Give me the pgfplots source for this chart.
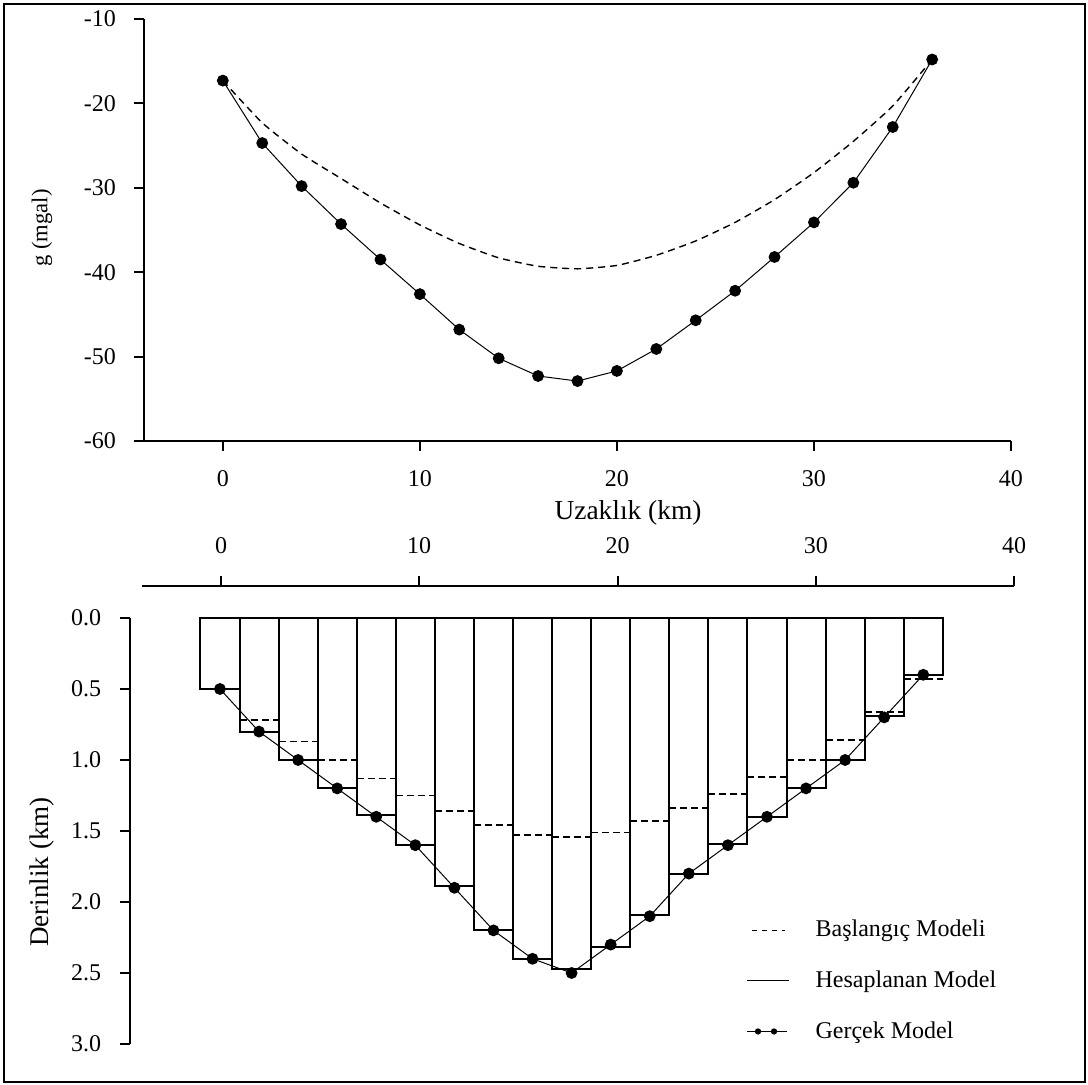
\documentclass[border=0pt]{standalone}
\usepackage{fontspec}
\setmainfont{Liberation Serif}
\usepackage{pgfplots}
\pgfplotsset{compat=1.18}

\pgfplotsset{
  base/.style={scale only axis, clip=false,
    axis line style={-, line width=1pt},
    tick style={line width=1pt, black},
    tick align=outside, major tick length=5pt,
    tick label style={font=\fontsize{12}{14}\selectfont},
    /pgf/number format/assume math mode=true},
}

\begin{document}
\begin{tikzpicture}
\useasboundingbox (0,0) rectangle (544pt,542.5pt);
\draw[line width=1.2pt] (2pt,1.5pt) rectangle (542.5pt,540.5pt);

% top panel: gravity
\begin{axis}[base,
  at={(72pt,322pt)}, anchor=south west,
  width=433.5pt, height=211pt,
  xmin=-4, xmax=40, ymin=-60, ymax=-10,
  axis x line*=bottom, axis y line*=left,
  xtick={0,10,...,40}, ytick={-60,-50,...,-10},
  xticklabel style={yshift=-6pt},
  yticklabel style={xshift=-5.5pt}]
\addplot[black, line width=0.7pt, dash pattern=on 3.5pt off 2.5pt, smooth, tension=0.3] coordinates {
(0,-17.3) (2,-22.3) (4,-26.0) (6,-28.9) (8,-31.8) (10,-34.4) (12,-36.6) (14,-38.3)
(16,-39.3) (18,-39.6) (20,-39.2) (22,-38.0) (24,-36.3) (26,-34.1) (28,-31.4)
(30,-28.2) (32,-24.5) (34,-20.3) (36,-14.8)};
\addplot[black, line width=0.5pt, mark=*, mark size=2.7pt, mark options={solid, fill=black}] coordinates {
(0,-17.3) (2,-24.7) (4,-29.8) (6,-34.3) (8,-38.5) (10,-42.6) (12,-46.8) (14,-50.2)
(16,-52.3) (18,-52.9) (20,-51.7) (22,-49.1) (24,-45.7) (26,-42.2) (28,-38.2)
(30,-34.1) (32,-29.4) (34,-22.8) (36,-14.8)};
\end{axis}

% bottom panel: distance axis on top
\begin{axis}[base,
  at={(70.85pt,249.5pt)}, anchor=north west,
  width=436.15pt, height=10pt,
  xmin=-4, xmax=40, ymin=0, ymax=1,
  axis x line*=top, axis y line=none, ytick=\empty,
  xtick={0,10,...,40},
  xticklabel style={yshift=7.5pt}]
\end{axis}

% bottom panel: depth model
\begin{axis}[base,
  at={(65.05pt,20.5pt)}, anchor=south west,
  width=435.65pt, height=213pt,
  xmin=-4.6, xmax=40, ymin=0, ymax=3, y dir=reverse,
  axis x line=none, axis y line*=left,
  ytick={0,0.5,...,3},
  yticklabel style={xshift=-6pt, /pgf/number format/.cd, fixed, fixed zerofill, precision=1},
  legend style={at={(axis description cs:0.700,0.310)}, anchor=north west,
    draw=none, fill=none, row sep=11.5pt,
    /tikz/every odd column/.append style={column sep=11pt},
    font=\fontsize{12}{14}\selectfont},
  legend cell align=left]
\addplot[black, line width=0.9pt, dash pattern=on 3.5pt off 2pt, unbounded coords=jump,
  legend image code/.code={\draw[black, line width=0.6pt, dash pattern=on 2.5pt off 2.5pt] (2.5pt,0pt) -- (19pt,0pt);}]
coordinates {
(-1,0.50) (1,0.50) (1,nan)
(1,0.72) (3,0.72) (3,nan)
(3,0.87) (5,0.87) (5,nan)
(5,1.00) (7,1.00) (7,nan)
(7,1.13) (9,1.13) (9,nan)
(9,1.25) (11,1.25) (11,nan)
(11,1.36) (13,1.36) (13,nan)
(13,1.46) (15,1.46) (15,nan)
(15,1.53) (17,1.53) (17,nan)
(17,1.54) (19,1.54) (19,nan)
(19,1.51) (21,1.51) (21,nan)
(21,1.43) (23,1.43) (23,nan)
(23,1.34) (25,1.34) (25,nan)
(25,1.24) (27,1.24) (27,nan)
(27,1.12) (29,1.12) (29,nan)
(29,1.00) (31,1.00) (31,nan)
(31,0.86) (33,0.86) (33,nan)
(33,0.66) (35,0.66) (35,nan)
(35,0.43) (37,0.43)};
\addlegendentry{Başlangıç Modeli}
\addplot[ybar, bar width=2, draw=black, fill=none, line width=1pt,
  legend image code/.code={\draw[black, line width=0.6pt] (0pt,0pt) -- (21pt,0pt);}]
coordinates {
(0,0.50) (2,0.80) (4,1.00) (6,1.20) (8,1.39) (10,1.60) (12,1.89) (14,2.20)
(16,2.40) (18,2.47) (20,2.32) (22,2.09) (24,1.80) (26,1.59) (28,1.40)
(30,1.20) (32,1.00) (34,0.69) (36,0.40)};
\addlegendentry{Hesaplanan Model}
\addplot[black, line width=0.5pt, mark=*, mark size=2.7pt, mark options={solid, fill=black},
  legend image code/.code={\draw[black, line width=0.6pt] (0pt,0pt) -- (20pt,0pt);
    \fill[black] (5.5pt,0pt) circle (1.3pt); \fill[black] (13.5pt,0pt) circle (1.3pt);}]
coordinates {
(0,0.5) (2,0.8) (4,1.0) (6,1.2) (8,1.4) (10,1.6) (12,1.9) (14,2.2)
(16,2.4) (18,2.5) (20,2.3) (22,2.1) (24,1.8) (26,1.6) (28,1.4)
(30,1.2) (32,1.0) (34,0.7) (36,0.4)};
\addlegendentry{Gerçek Model}
\end{axis}

\node[rotate=90, font=\fontsize{11.3}{13}\selectfont] at (21pt,428.5pt) {g (mgal)};
\node[font=\fontsize{13.7}{16}\selectfont] at (314pt,286pt) {Uzaklık (km)};
\node[rotate=90, font=\fontsize{13.5}{16}\selectfont] at (21pt,106.5pt) {Derinlik (km)};
\end{tikzpicture}
\end{document}
